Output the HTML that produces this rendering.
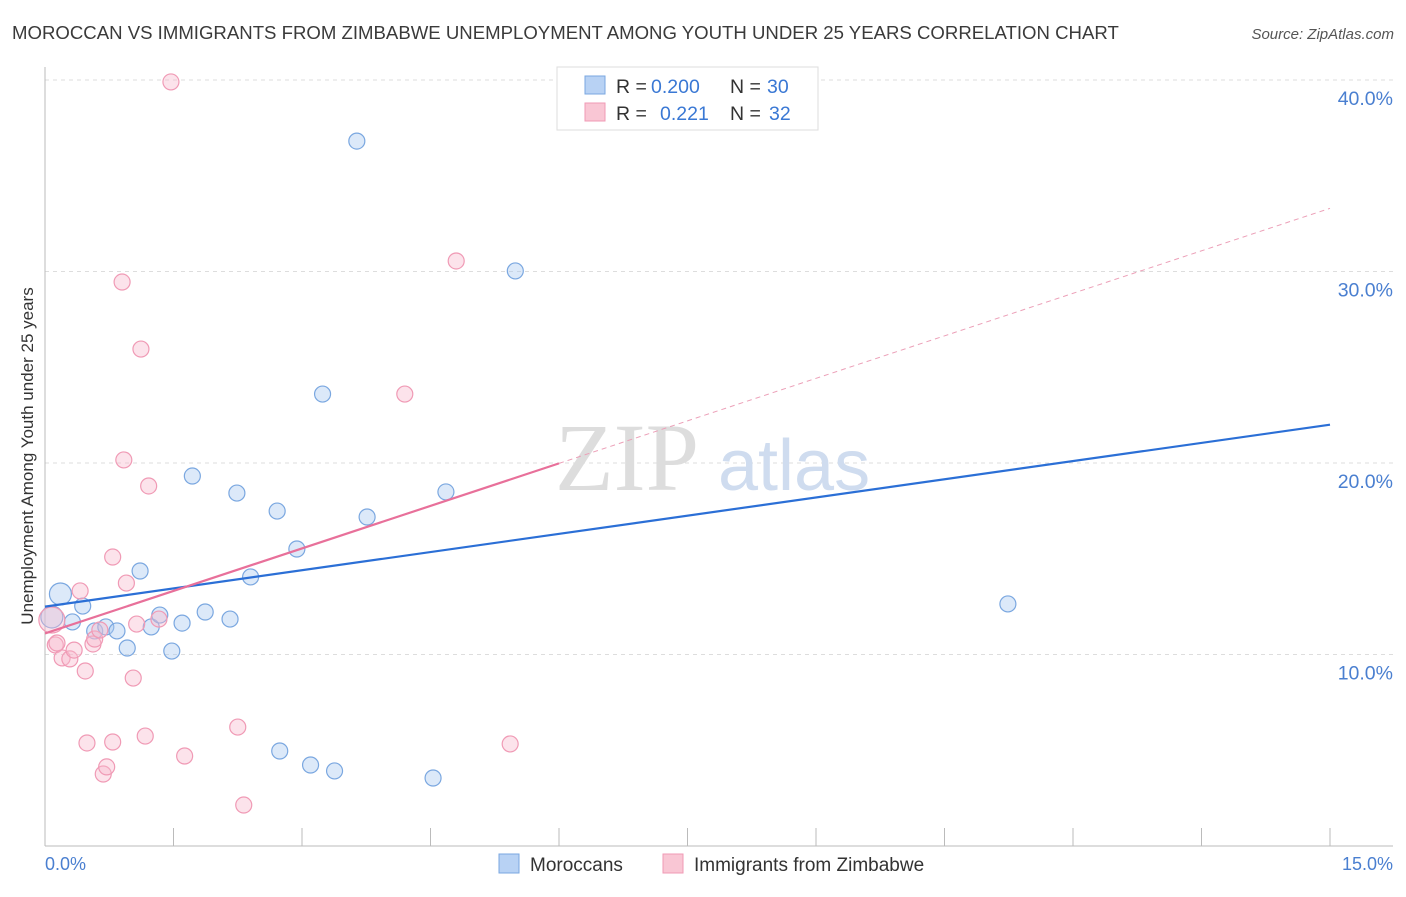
<!DOCTYPE html>
<html><head><meta charset="utf-8"><style>
body{margin:0;background:#fff;font-family:"Liberation Sans",sans-serif;}
</style></head><body>
<svg width="1406" height="892" xmlns="http://www.w3.org/2000/svg" style="font-family:'Liberation Sans',sans-serif">
<text x="12" y="39" font-size="18.6" fill="#3a3a3a">MOROCCAN VS IMMIGRANTS FROM ZIMBABWE UNEMPLOYMENT AMONG YOUTH UNDER 25 YEARS CORRELATION CHART</text>
<text x="1394" y="39" font-size="15" fill="#555" font-style="italic" text-anchor="end">Source: ZipAtlas.com</text>
<g id="grid"></g>
<text x="555" y="490" font-size="96" font-family="'Liberation Serif',serif" fill="#ddd">ZIP</text>
<text x="718" y="490" font-size="72" fill="#cfdcef">atlas</text>
<line x1="45" y1="67" x2="45" y2="846" stroke="#bbb"/>
<line x1="45" y1="846" x2="1393" y2="846" stroke="#bbb"/>
<g id="marks"></g>
<text x="33" y="456" font-size="17" fill="#333" text-anchor="middle" transform="rotate(-90 33 456)">Unemployment Among Youth under 25 years</text>
<text x="45" y="870" font-size="18" fill="#4a7fd0">0.0%</text>
<text x="1393" y="870" font-size="18" fill="#4a7fd0" text-anchor="end">15.0%</text>
<g>
<rect x="557" y="67" width="261" height="63" fill="#fff" stroke="#ddd"/>
<rect x="585" y="76" width="20" height="18" fill="#b8d2f4" stroke="#7aa7e0"/>
<rect x="585" y="103" width="20" height="18" fill="#f9c6d4" stroke="#f09ab5"/>
<text x="616" y="93" font-size="19.5" fill="#333">R =</text>
<text x="651" y="93" font-size="19.5" fill="#3a78d4">0.200</text>
<text x="730" y="93" font-size="19.5" fill="#333">N =</text>
<text x="767" y="93" font-size="19.5" fill="#3a78d4">30</text>
<text x="616" y="120" font-size="19.5" fill="#333">R =</text>
<text x="660" y="120" font-size="19.5" fill="#3a78d4">0.221</text>
<text x="730" y="120" font-size="19.5" fill="#333">N =</text>
<text x="769" y="120" font-size="19.5" fill="#3a78d4">32</text>
</g>
<g>
<rect x="499" y="854" width="20" height="19" fill="#b8d2f4" stroke="#7aa7e0"/>
<text x="530" y="871" font-size="19" fill="#333">Moroccans</text>
<rect x="663" y="854" width="20" height="19" fill="#f9c6d4" stroke="#f09ab5"/>
<text x="694" y="871" font-size="19" fill="#333">Immigrants from Zimbabwe</text>
</g>
</svg>
<script>
const yTicks=[10,20,30,40];
const yTickLabels=["10.0%","20.0%","30.0%","40.0%"];
const xTicks=[1.5,3,4.5,6,7.5,9,10.5,12,13.5,15];
const blueX=[0.18,0.08,0.32,0.44,0.58,0.71,0.84,0.96,1.11,1.24,1.34,1.48,1.60,1.72,1.87,2.16,2.24,2.40,2.71,2.74,2.94,3.10,3.24,3.38,3.64,3.76,4.53,4.68,5.49,11.24];
const blueY=[13.16,11.96,11.70,12.53,11.23,11.44,11.23,10.34,14.36,11.44,12.06,10.18,11.64,19.32,12.22,11.85,18.43,14.05,17.49,4.96,15.51,4.23,23.60,3.92,36.81,17.18,3.55,18.49,30.03,12.64];
const blueSize=[11,11,8,8,8,8,8,8,8,8,8,8,8,8,8,8,8,8,8,8,8,8,8,8,8,8,8,8,8,8];
const pinkX=[0.08,0.12,0.20,0.29,0.34,0.41,0.47,0.49,0.56,0.58,0.68,0.72,0.79,0.79,0.90,0.92,0.95,1.03,1.07,1.12,1.17,1.21,1.33,1.47,1.63,2.25,2.32,4.20,4.80,5.43,0.64,0.14];
const pinkY=[11.80,10.50,9.82,9.77,10.23,13.32,9.14,5.38,10.55,10.81,3.76,4.13,15.09,5.43,29.45,20.16,13.73,8.77,11.59,25.95,5.74,18.80,11.85,39.90,4.70,6.21,2.14,23.60,30.55,5.33,11.28,10.60];
const pinkSize=[13,8,8,8,8,8,8,8,8,8,8,8,8,8,8,8,8,8,8,8,8,8,8,8,8,8,8,8,8,8,8,8];
const blueLine=[12.5,22.0];
const pinkLine=[11.1,33.3];
const pinkSolidEnd=6;
const X=v=>45+v*(1285/15), Y=v=>846-v*19.15;
const NS="http://www.w3.org/2000/svg";
const grid=document.getElementById('grid'), marks=document.getElementById('marks');
function mk(tag,attrs,parent){const e=document.createElementNS(NS,tag);for(const k in attrs)e.setAttribute(k,attrs[k]);parent.appendChild(e);return e;}
yTicks.forEach((t,i)=>{
 const l=mk('line',{x1:45,x2:1393,y1:Y(t),y2:Y(t),stroke:'#ddd','stroke-dasharray':'4,4'},grid);
 
 
 const tx=mk('text',{x:1393,y:Y(t)+25,'font-size':19.5,fill:'#4a7fd0','text-anchor':'end'},grid);
 tx.textContent=yTickLabels[i];
 
 
});
xTicks.forEach(t=>{
 const l=mk('line',{x1:X(t),x2:X(t),y1:828,y2:846,stroke:'#bbb'},grid);
 
 
});
blueX.forEach((x,i)=>{
 const c=mk('circle',{cx:X(x),cy:Y(blueY[i]),r:blueSize[i],fill:'rgba(168,200,240,0.4)',stroke:'#7aa7e0','stroke-width':1.2},marks);
 
 
});
pinkX.forEach((x,i)=>{
 const c=mk('circle',{cx:X(x),cy:Y(pinkY[i]),r:pinkSize[i],fill:'rgba(248,185,205,0.4)',stroke:'#f09ab5','stroke-width':1.2},marks);
 
 
});
const bl=mk('line',{x1:X(0),y1:Y(blueLine[0]),x2:X(15),y2:Y(blueLine[1]),stroke:'#2b6fd6','stroke-width':2.2},marks);


const pm=pinkLine[0]+(pinkLine[1]-pinkLine[0])*pinkSolidEnd/15;
const pl=mk('line',{x1:X(0),y1:Y(pinkLine[0]),x2:X(pinkSolidEnd),y2:Y(pm),stroke:'#e8709a','stroke-width':2.2},marks);


const pd=mk('line',{x1:X(pinkSolidEnd),y1:Y(pm),x2:X(15),y2:Y(pinkLine[1]),stroke:'#eca0b8','stroke-width':1,'stroke-dasharray':'5,4'},marks);


</script>
</body></html>
